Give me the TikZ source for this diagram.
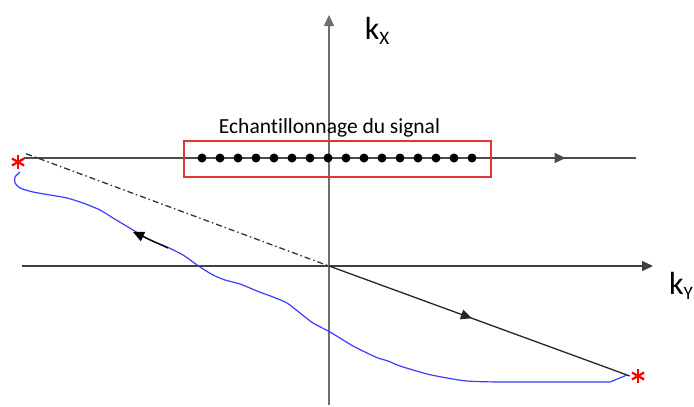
\documentclass[tikz,border=0pt]{standalone}
\usepackage{fontspec}
\setmainfont{Carlito}[Ligatures=NoCommon]
\usepackage{xcolor}
\usetikzlibrary{positioning, arrows.meta, decorations.markings}

\definecolor{axisgray}{RGB}{110,110,110}
\definecolor{trajblue}{RGB}{60,60,250}
\definecolor{boxred}{RGB}{230,50,50}

\begin{document}
\begin{tikzpicture}[x=1pt, y=-1pt,
    axis/.style={draw=axisgray, line width=1.6pt},
    tip/.style={-{Triangle[length=11pt, width=10pt]}},
    midarr/.style={postaction={decorate}, decoration={markings,
        mark=at position #1 with {\arrow{Triangle[length=11pt, width=10pt]}}}},
    sample/.style={circle, fill=black, inner sep=0pt, minimum size=9pt},
    aster/.style={minimum size=16pt, inner sep=0pt, path picture={
        \foreach \a in {90,30,150}
          \draw[red, line width=2.3pt]
            (path picture bounding box.center) ++(\a:7pt) -- ++(\a+180:14pt);}},
    lbl/.style={inner sep=0pt, font=\fontsize{32}{32}\selectfont}
  ]
  \useasboundingbox (0,0) rectangle (694,407);

  % axes
  \coordinate (o)   at (329,266);
  \coordinate (kyl) at (22,266);
  \coordinate (kyr) at (653,266);
  \coordinate (kxb) at (329,405);
  \coordinate (kxt) at (329,15);
  \draw[axis, tip, draw=black!75] (kyl) -- (kyr);
  \draw[axis, tip] (kxb) -- (kxt);
  \node[lbl] (kxlab) at (377,31) {k\raisebox{-5pt}{\fontsize{19}{19}\selectfont X}};
  \node[lbl] (kylab) at (681,286) {k\raisebox{-5pt}{\fontsize{19}{19}\selectfont Y}};

  % end points of the trajectory
  \node[aster] (start) at (18,162) {};
  \node[aster] (stop)  at (638,376) {};
  \coordinate (linel) at (24,158);
  \coordinate (liner) at (636,158);

  % sampled line
  \draw[axis, draw=black!70, midarr=0.885] (linel) -- (liner);
  \node[draw=boxred, line width=1.1pt, minimum width=307pt, minimum height=36pt,
        inner sep=0pt] (sampbox) at (337.5,159) {};
  \node[font=\fontsize{21.5}{21.5}\selectfont, above=3pt of sampbox.north,
        xshift=-8pt, inner sep=0pt] (samptxt) {Echantillonnage du signal};
  \foreach \i in {0,...,15}
    \node[sample] (s\i) at ({202+18*\i},158) {};

  % straight trajectory
  \draw[black!80, line width=1.3pt, dash pattern=on 6pt off 3pt on 1.5pt off 3pt]
    (start.north east) -- (o);
  \draw[black!85, line width=1.3pt, midarr=0.475] (o) -- (stop.west);

  % measured trajectory
  \coordinate (bs) at (20,172);
  \coordinate (be) at (627,375);
  \draw[trajblue, line width=1.2pt] plot[smooth, tension=0.4] coordinates {
      (bs) (15,177) (15,183) (20,188) (33,192) (50,195) (67,198) (83,203)
      (100,210) (113,218) (133,230) (150,240) (167,247) (183,255) (200,267)
      (213,275) (225,280) (240,284) (257,291) (273,297) (287,303) (300,313)
      (313,323) (330,332) (353,346) (367,353) (378,358) (388,361) (400,366)
      (427,374) (447,378) (467,381) (500,382) (610,382)} -- (be);
  \coordinate (ra) at (168,248);
  \coordinate (rb) at (133,232);
  \draw[black, line width=1.3pt, tip] (ra) -- (rb);
\end{tikzpicture}
\end{document}
